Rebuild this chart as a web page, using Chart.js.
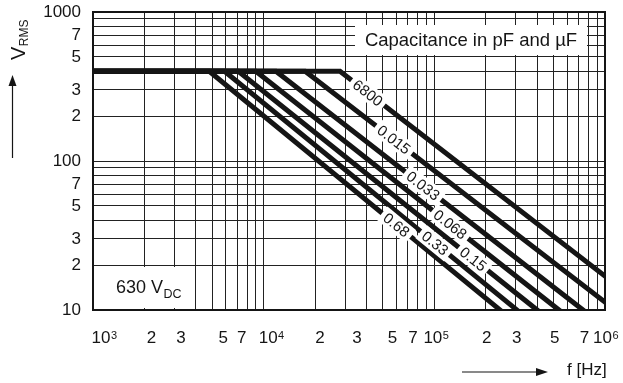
<!DOCTYPE html>
<html>
<head>
<meta charset="utf-8">
<script src="https://cdn.jsdelivr.net/npm/chart.js@4/dist/chart.umd.min.js"></script>
<style>
  html, body { margin: 0; padding: 0; background: #fff; }
  #wrap { width: 623px; height: 383px; }
</style>
</head>
<body>
<div id="wrap"><canvas id="chart" width="623" height="383"></canvas></div>
<script>
// Log grid: frequency in Hz, RMS voltage in V
const freqGrid = [1e3, 2e3, 3e3, 4e3, 5e3, 6e3, 7e3, 8e3, 9e3,
                  1e4, 2e4, 3e4, 4e4, 5e4, 6e4, 7e4, 8e4, 9e4,
                  1e5, 2e5, 3e5, 4e5, 5e5, 6e5, 7e5, 8e5, 9e5, 1e6];
const freqLabelValues = [1e3, 2e3, 3e3, 5e3, 7e3, 1e4, 2e4, 3e4, 5e4, 7e4, 1e5, 2e5, 3e5, 5e5, 7e5, 1e6];
const freqLabelText = ['10³', '2', '3', '5', '7', '10⁴', '2', '3', '5', '7', '10⁵', '2', '3', '5', '7', '10⁶'];
// typeset offsets of the frequency labels (px, right of their grid line)
const freqLabelShift = [8, 7, 6.5, 11, 4.5, 4.5, 5, 12, 9.5, 5, -1.5, 1, 1, 1, 6, -2.5];
const vrmsGrid = [10, 20, 30, 40, 50, 60, 70, 80, 90,
                  100, 200, 300, 400, 500, 600, 700, 800, 900, 1000];
const vrmsLabelValues = [10, 20, 30, 50, 70, 100, 200, 300, 500, 700, 1000];
const vrmsLabelText = ['10', '2', '3', '5', '7', '100', '2', '3', '5', '7', '1000'];

// Permissible RMS voltage curves, one per capacitance (pF / µF)
const capLabels = ['6800', '0.015', '0.033', '0.068', '0.15', '0.33', '0.68'];
const startFreq = 1e3;
const plateauVrms = 400;
const cornerFreq = [28000, 17500, 11800, 9000, 7100, 5900, 4800];
const endFreq = [1e6, 1e6, 743000, 537000, 400000, 305000, 243000];
const endVrms = [16.9, 11.3, 10, 10, 10, 10, 10];
// frequency at which each curve carries its capacitance tag
const labelFreq = [40800, 58000, 86000, 124000, 169000, 101000, 60000];

const FONT = "'Liberation Sans', Arial, Helvetica, sans-serif";
const INK = '#151515';
const GRID = '#222222';
const SUPERSCRIPT = { '³': '3', '⁴': '4', '⁵': '5', '⁶': '6' };

const datasets = capLabels.map((c, i) => ({
  label: c,
  data: [
    { x: startFreq, y: plateauVrms },
    { x: cornerFreq[i], y: plateauVrms },
    { x: endFreq[i], y: endVrms[i] }
  ],
  borderColor: INK,
  borderWidth: 5,
  borderCapStyle: 'square',
  borderJoinStyle: 'miter',
  pointRadius: 0,
  tension: 0,
  fill: false
}));

// interpolate a curve point in log-log space
function curvePoint(chart, i, f) {
  const xs = chart.scales.x, ys = chart.scales.y;
  const lf = Math.log10(f), l1 = Math.log10(cornerFreq[i]), l2 = Math.log10(endFreq[i]);
  const t = (lf - l1) / (l2 - l1);
  const lv = Math.log10(plateauVrms) + t * (Math.log10(endVrms[i]) - Math.log10(plateauVrms));
  const x1 = xs.getPixelForValue(cornerFreq[i]), y1 = ys.getPixelForValue(plateauVrms);
  const x2 = xs.getPixelForValue(endFreq[i]), y2 = ys.getPixelForValue(endVrms[i]);
  return {
    x: xs.getPixelForValue(f),
    y: ys.getPixelForValue(Math.pow(10, lv)),
    angle: Math.atan2(y2 - y1, x2 - x1)
  };
}

function arrow(ctx, x1, y1, x2, y2, len, half) {
  const a = Math.atan2(y2 - y1, x2 - x1);
  ctx.beginPath();
  ctx.moveTo(x1, y1);
  ctx.lineTo(x2 - Math.cos(a) * len * 0.8, y2 - Math.sin(a) * len * 0.8);
  ctx.stroke();
  ctx.beginPath();
  ctx.moveTo(x2, y2);
  ctx.lineTo(x2 - Math.cos(a) * len - Math.sin(a) * half, y2 - Math.sin(a) * len + Math.cos(a) * half);
  ctx.lineTo(x2 - Math.cos(a) * len + Math.sin(a) * half, y2 - Math.sin(a) * len - Math.cos(a) * half);
  ctx.closePath();
  ctx.fill();
}

function noScalePadding(s) {
  s.paddingLeft = 0;
  s.paddingRight = 0;
  s.paddingTop = 0;
  s.paddingBottom = 0;
}

const decorations = {
  id: 'decorations',
  afterDatasetsDraw(chart) {
    const ctx = chart.ctx;
    const area = chart.chartArea;
    const xs = chart.scales.x;
    ctx.save();

    // capacitance tags along the sloped parts
    ctx.font = '15px ' + FONT;
    ctx.textAlign = 'center';
    ctx.textBaseline = 'middle';
    capLabels.forEach((c, i) => {
      const p = curvePoint(chart, i, labelFreq[i]);
      const w = ctx.measureText(c).width;
      ctx.save();
      ctx.translate(p.x, p.y);
      ctx.rotate(p.angle);
      ctx.fillStyle = '#fff';
      ctx.fillRect(-w / 2 - 4, -8.5, w + 8, 17);
      ctx.fillStyle = INK;
      ctx.fillText(c, 0, 1);
      ctx.restore();
    });

    // plot frame
    ctx.strokeStyle = INK;
    ctx.lineWidth = 2;
    ctx.strokeRect(area.left, area.top, area.right - area.left, area.bottom - area.top);

    // frequency tick labels, decades with a raised exponent
    ctx.fillStyle = INK;
    ctx.textBaseline = 'alphabetic';
    freqLabelValues.forEach((v, k) => {
      const txt = freqLabelText[k];
      let base = '', exp = '';
      for (const ch of txt) {
        if (SUPERSCRIPT[ch]) exp += SUPERSCRIPT[ch]; else base += ch;
      }
      const x = xs.getPixelForValue(v) + freqLabelShift[k];
      ctx.font = '17px ' + FONT;
      ctx.textAlign = 'center';
      ctx.fillText(base, x, 343);
      if (exp) {
        const wb = ctx.measureText(base).width;
        ctx.font = '11px ' + FONT;
        ctx.textAlign = 'left';
        ctx.fillText(exp, x + wb / 2 + 0.5, 339);
      }
    });

    // legend caption box
    ctx.fillStyle = '#fff';
    ctx.fillRect(355, 25, 232, 30);
    ctx.fillStyle = INK;
    ctx.font = '18.5px ' + FONT;
    ctx.textAlign = 'center';
    ctx.textBaseline = 'alphabetic';
    ctx.fillText('Capacitance in pF and µF', 471, 46);

    // rated DC voltage box
    ctx.fillStyle = '#fff';
    ctx.fillRect(area.left + 1, 267, 96, 41);
    ctx.fillStyle = INK;
    ctx.textAlign = 'left';
    ctx.font = '18px ' + FONT;
    ctx.fillText('630 V', 116, 293);
    const w630 = ctx.measureText('630 V').width;
    ctx.font = '12.5px ' + FONT;
    ctx.fillText('DC', 116 + w630 + 0.5, 297.5);

    // y axis title, rotated
    ctx.save();
    ctx.translate(25, 60);
    ctx.rotate(-Math.PI / 2);
    ctx.font = '20px ' + FONT;
    ctx.fillText('V', 0, 0);
    const wV = ctx.measureText('V').width;
    ctx.font = '12px ' + FONT;
    ctx.fillText('RMS', wV + 0.5, 3);
    ctx.restore();

    // x axis title
    ctx.font = '17px ' + FONT;
    ctx.textAlign = 'left';
    ctx.fillText('f [Hz]', 567, 375);

    // axis arrows
    ctx.strokeStyle = INK;
    ctx.fillStyle = INK;
    ctx.lineWidth = 1.2;
    arrow(ctx, 12.5, 158, 12.5, 75, 11, 4);
    arrow(ctx, 462, 372, 548, 372, 12, 4);

    ctx.restore();
  }
};

new Chart(document.getElementById('chart'), {
  type: 'line',
  data: { datasets },
  options: {
    responsive: false,
    animation: false,
    devicePixelRatio: 1,
    layout: { padding: { left: 0, right: 18, top: 12, bottom: 20 } },
    plugins: { legend: { display: false }, tooltip: { enabled: false } },
    scales: {
      x: {
        type: 'logarithmic',
        min: 1e3,
        max: 1e6,
        afterBuildTicks: s => { s.ticks = freqGrid.map(v => ({ value: v })); },
        afterFit: s => { s.height = 53; noScalePadding(s); },
        grid: { color: GRID, lineWidth: 1, drawTicks: false },
        border: { display: false },
        ticks: { display: false, autoSkip: false, maxRotation: 0 }
      },
      y: {
        type: 'logarithmic',
        min: 10,
        max: 1000,
        afterBuildTicks: s => { s.ticks = vrmsGrid.map(v => ({ value: v })); },
        afterFit: s => { s.width = 93; noScalePadding(s); },
        grid: { color: GRID, lineWidth: 1, drawTicks: false },
        border: { display: false },
        ticks: {
          autoSkip: false,
          padding: 12,
          color: INK,
          font: { family: FONT, size: 17 },
          callback: v => {
            const k = vrmsLabelValues.indexOf(v);
            return k < 0 ? '' : vrmsLabelText[k];
          }
        }
      }
    }
  },
  plugins: [decorations]
});
</script>
</body>
</html>
